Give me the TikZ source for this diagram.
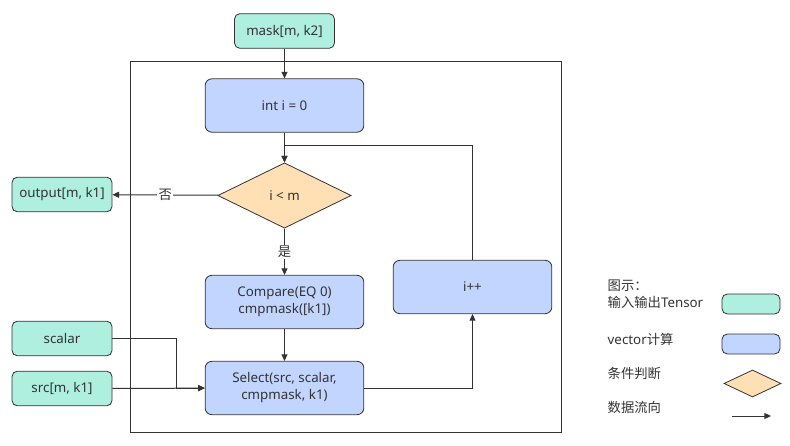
\documentclass[tikz,border=0pt]{standalone}
\usepackage{fontspec}
\setmainfont{Noto Sans}
\newfontfamily\cjk{Noto Sans CJK SC}
\usetikzlibrary{shapes.geometric, arrows.meta}
\definecolor{io-green}{HTML}{AEEFE0}
\definecolor{vec-blue}{HTML}{C2D5FF}
\definecolor{cond-peach}{HTML}{FFE0B4}
\definecolor{edge}{HTML}{333333}

\begin{document}
\begin{tikzpicture}[x=0.75pt, y=-0.75pt,
    every node/.style={font=\fontsize{10}{12.75}\selectfont, text=edge},
    iobox/.style={draw=edge, fill=io-green, rounded corners=4pt,
      line width=0.6pt, minimum width=75pt, minimum height=26pt},
    vecbox/.style={draw=edge, fill=vec-blue, rounded corners=5pt,
      line width=0.6pt, minimum width=119pt, minimum height=40pt, align=center},
    condbox/.style={draw=edge, fill=cond-peach, diamond, inner sep=0pt,
      line width=0.6pt, minimum width=100pt, minimum height=49pt},
    flow/.style={draw=edge, line width=0.75pt, -{Triangle[length=5pt, width=4.5pt]}}]
    \useasboundingbox (0,0) rectangle (790,446);
    % loop frame
    \draw[edge, line width=0.75pt] (130,61) rectangle (561,432);
    % inputs and outputs
    \node[iobox] (mask) at (284.5,31) {mask[m, k2]};
    \node[iobox] (out) at (62,194.5) {output[m, k1]};
    \node[iobox] (scalar) at (62,338.5) {scalar};
    \node[iobox] (src) at (62,388.5) {src[m, k1]};
    % loop body
    \node[vecbox] (init) at (284.5,105.5) {int i = 0};
    \node[condbox] (cond) at (284.5,195.5) {i < m};
    \node[vecbox] (cmp) at (284.5,302) {Compare(EQ 0)\\cmpmask([k1])};
    \node[vecbox] (sel) at (284.5,388) {Select(src, scalar,\\cmpmask, k1)};
    \node[vecbox] (inc) at (472.5,287) {i++};
    \coordinate (join) at (176,388);
    \coordinate (loop) at (284.5,145);
    \draw[flow] (mask) -- (init);
    \draw[flow] (init) -- (cond);
    \draw[flow] (cond) -- node[fill=white, inner sep=1pt] {\cjk 否} (out);
    \draw[flow] (cond) -- node[fill=white, inner sep=1pt] {\cjk 是} (cmp);
    \draw[flow] (cmp) -- (sel);
    \draw[flow] (scalar) -| (join) -- (sel);
    \draw[flow] (src) -- (sel);
    \draw[flow] (sel) -| (inc);
    \draw[flow] (inc) |- (loop) -- (cond);
    % legend
    \node[anchor=west, align=left] (lgtitle) at (603,294.5)
      {{\cjk 图示：}\\{\cjk 输入输出}Tensor};
    \node[anchor=west] (lgvec) at (603,339) {vector{\cjk 计算}};
    \node[anchor=west] (lgcond) at (603,373) {\cjk 条件判断};
    \node[anchor=west] (lgflow) at (603,407) {\cjk 数据流向};
    \node[iobox, rounded corners=4pt, minimum width=43.5pt, minimum height=15pt] (lgio) at (751,304) {};
    \node[vecbox, rounded corners=4pt, minimum width=43.5pt, minimum height=15pt] (lgvbox) at (751,344) {};
    \node[condbox, minimum width=42.75pt, minimum height=20.25pt] (lgdia) at (752.5,383.5) {};
    \coordinate (lgfrom) at (732,416);
    \coordinate (lgto) at (771,416);
    \draw[flow] (lgfrom) -- (lgto);
\end{tikzpicture}
\end{document}
